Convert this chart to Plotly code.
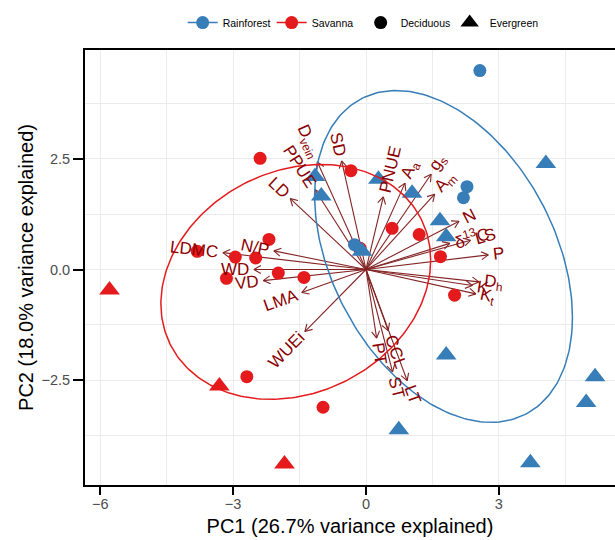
import math, re
import numpy as np
import plotly.graph_objects as go

# ---------------- data (PC scores) ----------------
rf_dec_x = [2.57, 2.28, 2.20, -0.26]
rf_dec_y = [4.49, 1.87, 1.62, 0.56]
rf_eve_x = [-1.15, -1.01, 0.28, 1.04, 1.67, 1.81, -0.09, 4.06, 1.81, 5.17, 4.97, 0.74, 3.71]
rf_eve_y = [2.10, 1.66, 2.04, 1.72, 1.10, 0.74, 0.41, 2.39, -1.93, -2.42, -3.00, -3.62, -4.36]
sv_dec_x = [-2.39, -0.34, 0.59, 1.20, 1.68, 2.00, -2.19, -3.81, -2.95, -2.49, -3.15, -1.98, -1.40, -0.13, -2.69, -0.97]
sv_dec_y = [2.51, 2.23, 0.93, 0.79, 0.29, -0.58, 0.68, 0.41, 0.28, 0.26, -0.20, -0.08, -0.18, 0.48, -2.42, -3.11]
sv_eve_x = [-5.79, -3.31, -1.84]
sv_eve_y = [-0.46, -2.63, -4.39]

# variable loadings (arrow tips)
var_names = ["D<sub>vein</sub>", "PPUE", "SD", "PNUE", "A<sub>a</sub>", "g<sub>s</sub>", "A<sub>m</sub>",
             "N", "δ<sup>13</sup>C", "LS", "P", "D<sub>h</sub>", "K", "K<sub>t</sub>",
             "LT", "CCL", "ST", "PT", "WUEi", "LMA", "VD", "WD", "N/P", "LDMC", "LD"]
var_x = [-1.10, -1.15, -0.55, 0.39, 0.88, 1.47, 1.55, 2.10, 1.89, 2.36, 2.76, 2.55, 2.40, 2.48,
         0.93, 0.50, 0.60, 0.24, -1.38, -1.45, -2.32, -2.53, -2.08, -3.23, -1.71]
var_y = [2.43, 1.80, 2.45, 1.64, 1.95, 2.15, 1.70, 1.09, 0.59, 0.66, 0.33, -0.28, -0.36, -0.55,
         -2.51, -1.38, -2.31, -1.55, -1.40, -0.52, -0.25, 0.00, 0.42, 0.38, 1.60]

# group ellipses: centre, half extents and covariance term
ell_groups = ["Rainforest", "Savanna"]
ell_cx = [1.75, -1.585]
ell_cy = [0.295, -0.28]
ell_wx = [2.91, 3.045]
ell_wy = [3.745, 2.65]
ell_sxy = [-4.0, 1.5]

x_ticks = [-6, -3, 0, 3]
y_ticks = [-2.5, 0.0, 2.5]
x_title = "PC1 (26.7% variance explained)"
y_title = "PC2 (18.0% variance explained)"

# ---------------- style ----------------
BLUE = "#377EB8"
RED = "#E41A1C"
ARROW = "#832424"
LABEL = "#8B0000"
FONT = "Liberation Sans"
W, H = 615, 540
ML, MR, MT, MB = 85, 0, 50, 55
K = 44.3  # px per unit
XR = [-(366 - ML) / K, (W - MR - 366) / K]
YR = [-(H - MB - 269.5) / K, (269.5 - MT) / K]
LAB_SIZE = 17

fig = go.Figure()

# arrows (shaft + open heads)
ax_, ay_ = [], []
head = 8.0 / K
for x, y in zip(var_x, var_y):
    ax_ += [0, x, None]
    ay_ += [0, y, None]
    a = math.atan2(y, x)
    for d in (math.radians(150), math.radians(-150)):
        ax_ += [x + head * math.cos(a + d), x, None]
        ay_ += [y + head * math.sin(a + d), y, None]
fig.add_trace(go.Scatter(x=ax_, y=ay_, mode="lines", line=dict(color=ARROW, width=1.1),
                         hoverinfo="skip", showlegend=False))

# points
def pts(xs, ys, color, sym, size):
    fig.add_trace(go.Scatter(x=xs, y=ys, mode="markers", showlegend=False, hoverinfo="skip",
                             marker=dict(color=color, symbol=sym, size=size, line=dict(width=0))))

pts(sv_dec_x, sv_dec_y, RED, "circle", 13)
pts(sv_eve_x, sv_eve_y, RED, "triangle-up", 18)
pts(rf_dec_x, rf_dec_y, BLUE, "circle", 13)
pts(rf_eve_x, rf_eve_y, BLUE, "triangle-up", 18)

# ellipses
t = np.linspace(0, 2 * np.pi, 241)
for g, cx, cy, wx, wy, sxy in zip(ell_groups, ell_cx, ell_cy, ell_wx, ell_wy, ell_sxy):
    c = sxy / wx
    ex = cx + wx * np.cos(t)
    ey = cy + c * np.cos(t) + math.sqrt(wy ** 2 - c ** 2) * np.sin(t)
    fig.add_trace(go.Scatter(x=ex, y=ey, mode="lines", showlegend=False, hoverinfo="skip",
                             line=dict(color=BLUE if g == "Rainforest" else RED, width=1.5)))

# legend entries
fig.add_trace(go.Scatter(x=[None], y=[None], mode="lines+markers", name="Rainforest",
                         line=dict(color=BLUE, width=1.5), marker=dict(color=BLUE, size=13)))
fig.add_trace(go.Scatter(x=[None], y=[None], mode="lines+markers", name="Savanna",
                         line=dict(color=RED, width=1.5), marker=dict(color=RED, size=13)))
fig.add_trace(go.Scatter(x=[None], y=[None], mode="markers", name="Deciduous",
                         marker=dict(color="black", size=13, symbol="circle")))
fig.add_trace(go.Scatter(x=[None], y=[None], mode="markers", name="Evergreen",
                         marker=dict(color="black", size=18, symbol="triangle-up")))

# labels
CW = {"A": .667, "C": .722, "D": .722, "E": .667, "K": .667, "L": .556, "M": .833, "N": .722,
      "P": .667, "S": .667, "T": .611, "U": .722, "V": .667, "W": .944, "a": .556, "e": .556,
      "h": .556, "i": .222, "m": .833, "n": .556, "s": .5, "t": .278, "v": .5, "/": .278,
      "1": .556, "3": .556, "δ": .556}

def text_w(s):
    w = 0.0
    for m in re.finditer(r"<su[bp]>(.*?)</su[bp]>|([^<]+)", s):
        small = m.group(1) is not None
        part = m.group(1) if small else m.group(2)
        w += sum(CW.get(ch, .6) for ch in part) * (0.7 if small else 1.0)
    return w * LAB_SIZE

for name, x, y in zip(var_names, var_x, var_y):
    a = math.atan2(y, x)
    off = (0.5 * text_w(name) + 5) / K
    lx, ly = x + off * math.cos(a), y + off * math.sin(a)
    ang = math.degrees(math.atan(y / x)) if x != 0 else 90
    fig.add_annotation(x=lx, y=ly, text=name, showarrow=False, textangle=-ang,
                       xanchor="center", yanchor="middle",
                       font=dict(family=FONT, size=LAB_SIZE, color=LABEL))

grid = "#EBEBEB"
fig.update_layout(
    width=W, height=H, margin=dict(l=ML, r=MR, t=MT, b=MB, autoexpand=False),
    paper_bgcolor="white", plot_bgcolor="white",
    font=dict(family=FONT),
    legend=dict(orientation="h", xref="container", yref="container", x=0.297, y=0.985,
                xanchor="left", yanchor="top", font=dict(size=10.5, color="black"),
                itemwidth=30, entrywidth=44, entrywidthmode="pixels", bgcolor="rgba(0,0,0,0)"),
    xaxis=dict(range=XR, tickvals=x_ticks, ticktext=[("−" if v < 0 else "") + str(abs(v)) for v in x_ticks],
               showgrid=True, gridcolor=grid, gridwidth=1.1,
               minor=dict(dtick=1.5, tick0=0, showgrid=True, gridcolor=grid, gridwidth=0.6, ticklen=0),
               zeroline=False, showline=True, linecolor="black", linewidth=2, mirror=True,
               ticks="outside", ticklen=8, tickwidth=2, tickcolor="black", ticklabelstandoff=-3,
               tickfont=dict(size=14.5, color="#4D4D4D"),
               title=dict(text=x_title, font=dict(size=20, color="black"), standoff=8)),
    yaxis=dict(range=YR, tickvals=y_ticks, ticktext=[("−" if v < 0 else "") + f"{abs(v):.1f}" for v in y_ticks],
               showgrid=True, gridcolor=grid, gridwidth=1.1,
               minor=dict(dtick=1.25, tick0=0, showgrid=True, gridcolor=grid, gridwidth=0.6, ticklen=0),
               zeroline=False, showline=True, linecolor="black", linewidth=2, mirror=False,
               ticks="outside", ticklen=10, tickwidth=2, tickcolor="black",
               tickfont=dict(size=14.5, color="#4D4D4D"),
               title=dict(text=y_title, font=dict(size=20, color="black"), standoff=2)),
)
fig.write_html("out.html")
